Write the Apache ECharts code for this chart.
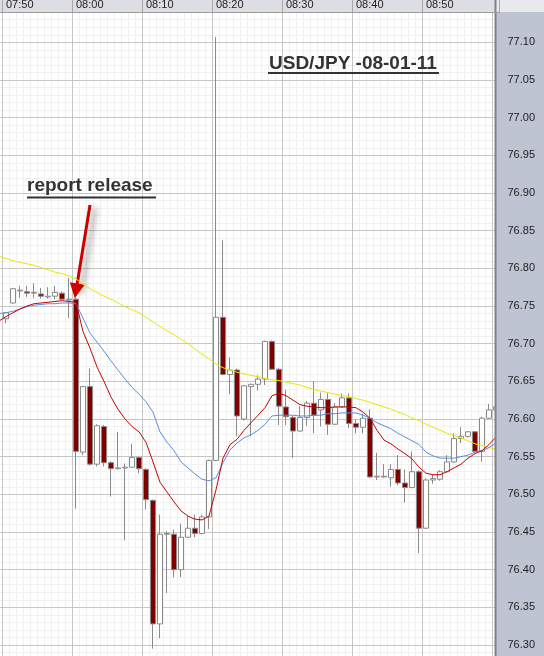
<!DOCTYPE html>
<html>
<head>
<meta charset="utf-8">
<script src="https://cdn.jsdelivr.net/npm/echarts@6/dist/echarts.min.js"></script>
<style>
  html, body { margin: 0; padding: 0; background: #ffffff; }
  #chart { width: 544px; height: 656px; }
</style>
</head>
<body>
<div id="chart"></div>
<script>
// ---- data (1-minute USD/JPY candles) ----
const times = [
  '07:49','07:50','07:51','07:52','07:53','07:54','07:55','07:56','07:57','07:58','07:59',
  '08:00','08:01','08:02','08:03','08:04','08:05','08:06','08:07','08:08','08:09',
  '08:10','08:11','08:12','08:13','08:14','08:15','08:16','08:17','08:18','08:19',
  '08:20','08:21','08:22','08:23','08:24','08:25','08:26','08:27','08:28','08:29',
  '08:30','08:31','08:32','08:33','08:34','08:35','08:36','08:37','08:38','08:39',
  '08:40','08:41','08:42','08:43','08:44','08:45','08:46','08:47','08:48','08:49',
  '08:50','08:51','08:52','08:53','08:54','08:55','08:56','08:57','08:58','08:59',
  '09:00'
];
const timeLabels = ['07:50','08:00','08:10','08:20','08:30','08:40','08:50'];
const opens = [
  null,  76.733,76.754,76.770,76.769,76.767,76.766,76.762,76.763,76.767,76.758,
  76.759,76.556,76.643,76.540,76.590,76.542,76.534,76.535,76.536,76.549,
  76.533,76.492,76.328,76.447,76.447,76.400,76.443,76.455,76.448,76.470,
  76.545,76.735,76.659,76.665,76.600,76.643,76.646,76.653,76.703,76.666,
  76.616,76.602,76.584,76.602,76.621,76.612,76.626,76.593,76.616,76.628,
  76.594,76.589,76.601,76.523,76.523,76.522,76.533,76.515,76.509,76.530,
  76.455,76.519,76.520,76.530,76.543,76.574,76.577,76.583,76.557,76.601,
  76.612
];
const closes = [
  null,  76.741,76.773,76.771,76.767,76.768,76.763,76.763,76.768,76.759,76.759,
  76.557,76.643,76.540,76.591,76.542,76.534,76.535,76.536,76.549,76.534,
  76.493,76.328,76.447,76.448,76.400,76.443,76.455,76.448,76.470,76.545,
  76.735,76.659,76.665,76.604,76.644,76.646,76.653,76.703,76.666,76.617,
  76.603,76.584,76.602,76.621,76.605,76.626,76.593,76.616,76.628,76.594,
  76.589,76.601,76.523,76.524,76.524,76.533,76.515,76.509,76.530,76.455,
  76.519,76.521,76.530,76.543,76.574,76.577,76.583,76.557,76.601,76.612,
  76.616
];
const lows = [
  null,  76.727,76.753,76.761,76.762,76.761,76.760,76.760,76.759,76.758,76.734,
  76.481,76.552,76.538,76.537,76.537,76.497,76.533,76.439,76.535,76.528,
  76.480,76.295,76.309,76.369,76.390,76.390,76.442,76.443,76.447,76.454,
  76.544,76.658,76.633,76.577,76.598,76.577,76.638,76.645,76.665,76.592,
  76.592,76.548,76.583,76.591,76.581,76.590,76.579,76.592,76.615,76.588,
  76.581,76.581,76.522,76.519,76.522,76.510,76.512,76.489,76.508,76.422,
  76.454,76.514,76.518,76.529,76.542,76.568,76.575,76.555,76.543,76.600,
  76.610
];
const highs = [
  null,  76.742,76.774,76.777,76.777,76.780,76.774,76.775,76.777,76.769,76.787,
  76.762,76.644,76.667,76.593,76.592,76.544,76.583,76.541,76.567,76.550,
  76.535,76.493,76.473,76.451,76.453,76.461,76.471,76.473,76.473,76.546,
  77.107,76.837,76.682,76.667,76.645,76.647,76.658,76.704,76.704,76.668,
  76.639,76.604,76.617,76.624,76.650,76.635,76.634,76.621,76.634,76.634,
  76.599,76.607,76.613,76.555,76.540,76.540,76.552,76.533,76.557,76.532,
  76.521,76.526,76.532,76.552,76.581,76.589,76.584,76.584,76.603,76.620,
  76.618
];
const maRed = [
  76.730,76.736,76.741,76.746,76.750,76.753,76.754,76.755,76.756,76.757,76.756,
  76.755,76.716,76.694,76.669,76.650,76.629,76.613,76.600,76.590,76.583,
  76.569,76.543,76.516,76.503,76.490,76.478,76.471,76.467,76.466,76.471,
  76.506,76.548,76.566,76.573,76.585,76.595,76.605,76.615,76.631,76.634,
  76.631,76.625,76.619,76.617,76.616,76.615,76.615,76.616,76.616,76.616,
  76.615,76.609,76.601,76.585,76.572,76.567,76.560,76.554,76.547,76.536,
  76.528,76.526,76.526,76.530,76.535,76.540,76.548,76.554,76.558,76.566,
  76.576
];
const maBlue = [
  76.740,76.741,76.743,76.746,76.749,76.751,76.752,76.753,76.753,76.754,76.754,
  76.753,76.734,76.714,76.702,76.690,76.677,76.665,76.653,76.642,76.633,
  76.623,76.609,76.583,76.569,76.558,76.543,76.535,76.527,76.520,76.518,
  76.522,76.542,76.559,76.568,76.575,76.579,76.585,76.593,76.604,76.605,
  76.605,76.605,76.604,76.604,76.605,76.605,76.607,76.607,76.608,76.608,
  76.608,76.605,76.601,76.595,76.591,76.587,76.581,76.576,76.571,76.566,
  76.556,76.551,76.548,76.548,76.548,76.550,76.552,76.556,76.558,76.562,
  76.568
];
const maYellow = [
  76.816,76.813,76.810,76.808,76.806,76.804,76.801,76.798,76.795,76.793,76.790,
  76.786,76.779,76.773,76.768,76.763,76.759,76.754,76.749,76.745,76.741,
  76.735,76.729,76.723,76.717,76.712,76.706,76.700,76.693,76.686,76.680,
  76.673,76.668,76.665,76.662,76.660,76.658,76.656,76.654,76.652,76.651,
  76.649,76.647,76.645,76.642,76.639,76.637,76.635,76.633,76.631,76.630,
  76.627,76.625,76.622,76.619,76.616,76.613,76.609,76.606,76.601,76.598,
  76.593,76.589,76.585,76.581,76.578,76.575,76.571,76.567,76.565,76.562,
  76.560
];
const priceMin = 76.25;
const priceMax = 77.14;
const priceStep = 0.05;
const titleText = 'USD/JPY -08-01-11';
const noteText = 'report release';
const arrowFrom = ['08:02', 76.884];
const arrowTo = ['08:00', 76.770];

// ---- build ----
const candles = times.map((t, i) => opens[i] == null ? '-' : [opens[i], closes[i], lows[i], highs[i]]);
const isLabelled = (idx, val) => timeLabels.indexOf(val) >= 0;
const tenMin = (idx, val) => /0$/.test(val);

const chart = echarts.init(document.getElementById('chart'), null, { renderer: 'canvas' });
const gridTop = 12.2;
const pxPerUnit = 753.3;

const option = {
  animation: false,
  backgroundColor: '#ffffff',
  grid: {
    left: -4.5, top: gridTop, width: 504, height: (priceMax - priceMin) * pxPerUnit,
    containLabel: false, outerBoundsMode: 'none'
  },
  xAxis: [
    {
      type: 'category', data: times, position: 'top', boundaryGap: true, z: 20,
      axisLine: { show: true, lineStyle: { color: '#9a9a9a', width: 1 } },
      axisTick: { show: true, interval: isLabelled, length: 12, inside: false, lineStyle: { color: '#a8a8a8' } },
      axisLabel: { show: true, interval: isLabelled, align: 'left', margin: 1.5, color: '#1e1e1e', fontSize: 11, fontFamily: '"Liberation Sans", Arial, sans-serif' },
      splitLine: { show: false }
    },
    {
      type: 'category', data: times, position: 'top', boundaryGap: true, z: 3,
      axisLine: { show: false }, axisTick: { show: false }, axisLabel: { show: false },
      splitLine: { show: true, interval: tenMin, lineStyle: { color: '#c6c6c6', width: 1 } }
    },
    {
      type: 'category', data: times, position: 'bottom', boundaryGap: true, z: 1,
      axisLine: { show: false }, axisTick: { show: false }, axisLabel: { show: false },
      splitLine: { show: true, interval: 0, lineStyle: { color: '#f1f1f1', width: 1 } }
    }
  ],
  yAxis: [
    {
      type: 'value', min: priceMin, max: priceMax, interval: priceStep, z: 2,
      axisLine: { show: false }, axisTick: { show: false }, axisLabel: { show: false },
      splitLine: { show: true, lineStyle: { color: '#c6c6c6', width: 1 } },
      minorTick: { show: false, splitNumber: 5 },
      minorSplitLine: { show: true, lineStyle: { color: '#f1f1f1', width: 1 } }
    },
    {
      type: 'value', min: priceMin, max: priceMax, interval: priceStep, position: 'right', z: 20,
      axisLine: { show: false }, axisTick: { show: false }, splitLine: { show: false },
      axisLabel: {
        show: true, margin: 8, color: '#1e1e1e', fontSize: 11, fontFamily: '"Liberation Sans", Arial, sans-serif',
        formatter: v => (v > 76.28 && v < 77.12) ? v.toFixed(2) : ''
      }
    }
  ],
  series: [
    {
      type: 'candlestick', name: 'USD/JPY', data: candles, z: 5, barWidth: 5,
      xAxisIndex: 0, yAxisIndex: 0,
      itemStyle: {
        color: '#ffffff', color0: '#800000',
        borderColor: '#8a8a8a', borderColor0: '#8a8a8a', borderColorDoji: '#8a8a8a',
        borderWidth: 1
      },
      markLine: {
        silent: true, animation: false,
        symbol: ['none', 'triangle'], symbolSize: 15,
        label: { show: false },
        lineStyle: { color: '#cc0000', width: 3, type: 'solid',
          shadowColor: 'rgba(0,0,0,0.45)', shadowBlur: 6, shadowOffsetX: 5, shadowOffsetY: 3 },
        data: [[ { coord: arrowFrom }, { coord: arrowTo } ]]
      }
    },
    { type: 'line', name: 'MA slow', data: maYellow, z: 6, symbol: 'none', smooth: false,
      lineStyle: { color: '#e6e600', width: 1 } },
    { type: 'line', name: 'MA mid', data: maBlue, z: 6, symbol: 'none', smooth: false,
      lineStyle: { color: '#5b8de0', width: 1 } },
    { type: 'line', name: 'MA fast', data: maRed, z: 6, symbol: 'none', smooth: false,
      lineStyle: { color: '#cc0000', width: 1 } }
  ],
  graphic: [
    { type: 'rect', z: 10, silent: true, shape: { x: 0, y: 0, width: 496, height: 12 }, style: { fill: '#dcdee4' } },
    { type: 'rect', z: 10, silent: true, shape: { x: 496, y: 0, width: 48, height: 12 }, style: { fill: '#e8e9ed' } },
    { type: 'rect', z: 10, silent: true, shape: { x: 495, y: 12, width: 49, height: 644 }, style: { fill: '#bec4d1' } },
    { type: 'line', z: 11, silent: true, shape: { x1: 495.5, y1: 0, x2: 495.5, y2: 656 }, style: { stroke: '#7d828c', lineWidth: 2 } },
    { type: 'text', z: 15, silent: true, x: 269, y: 64,
      style: { text: titleText, font: 'bold 19px "Liberation Sans", Arial, sans-serif', fill: '#333333', align: 'left', verticalAlign: 'middle' } },
    { type: 'rect', z: 15, silent: true, shape: { x: 268, y: 72, width: 171, height: 2 }, style: { fill: '#333333' } },
    { type: 'text', z: 15, silent: true, x: 27, y: 186,
      style: { text: noteText, font: 'bold 19px "Liberation Sans", Arial, sans-serif', fill: '#333333', align: 'left', verticalAlign: 'middle' } },
    { type: 'rect', z: 15, silent: true, shape: { x: 27, y: 196.5, width: 129, height: 2 }, style: { fill: '#333333' } }
  ]
};
chart.setOption(option);
</script>
</body>
</html>
